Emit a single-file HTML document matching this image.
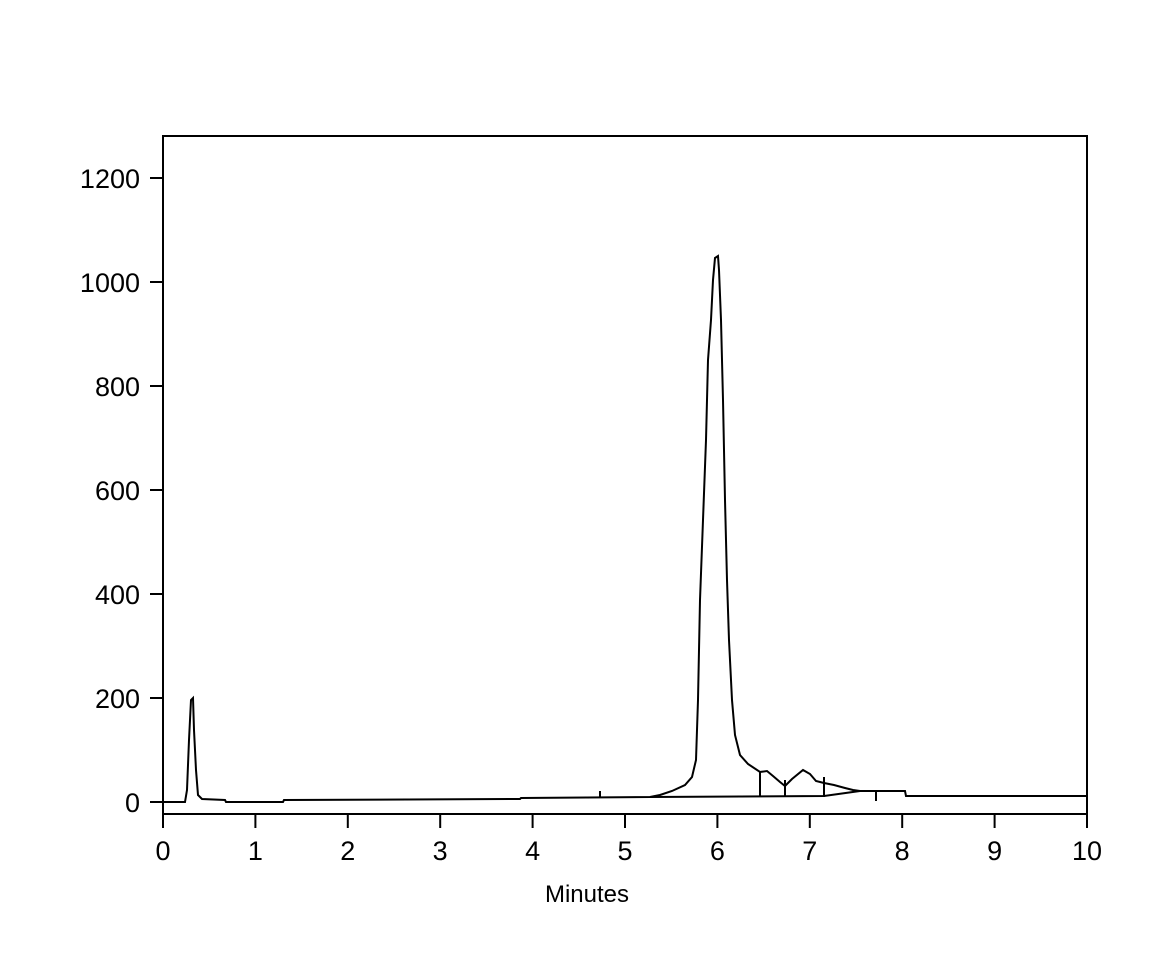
<!DOCTYPE html><html><head><style>body{margin:0;background:#fff}svg{display:block}text{font-family:"Liberation Sans",sans-serif;fill:#000}</style></head><body>
<svg width="1176" height="980" viewBox="0 0 1176 980">
<rect x="163" y="136" width="924" height="678" fill="none" stroke="#000" stroke-width="2"/>
<g stroke="#000" stroke-width="2">
<line x1="150" y1="178" x2="163" y2="178"/><line x1="150" y1="282" x2="163" y2="282"/><line x1="150" y1="386" x2="163" y2="386"/><line x1="150" y1="490" x2="163" y2="490"/><line x1="150" y1="594" x2="163" y2="594"/><line x1="150" y1="698" x2="163" y2="698"/><line x1="150" y1="802" x2="163" y2="802"/>
<line x1="163" y1="814" x2="163" y2="828"/><line x1="255.4" y1="814" x2="255.4" y2="828"/><line x1="347.8" y1="814" x2="347.8" y2="828"/><line x1="440.2" y1="814" x2="440.2" y2="828"/><line x1="532.6" y1="814" x2="532.6" y2="828"/><line x1="625" y1="814" x2="625" y2="828"/><line x1="717.4" y1="814" x2="717.4" y2="828"/><line x1="809.8" y1="814" x2="809.8" y2="828"/><line x1="902.2" y1="814" x2="902.2" y2="828"/><line x1="994.6" y1="814" x2="994.6" y2="828"/><line x1="1087" y1="814" x2="1087" y2="828"/>
</g>
<g font-size="27" text-anchor="end">
<text x="140" y="188">1200</text><text x="140" y="292">1000</text><text x="140" y="396">800</text><text x="140" y="500">600</text><text x="140" y="604">400</text><text x="140" y="708">200</text><text x="140" y="812">0</text></g>
<g font-size="27" text-anchor="middle">
<text x="163" y="860">0</text><text x="255.4" y="860">1</text><text x="347.8" y="860">2</text><text x="440.2" y="860">3</text><text x="532.6" y="860">4</text><text x="625" y="860">5</text><text x="717.4" y="860">6</text><text x="809.8" y="860">7</text><text x="902.2" y="860">8</text><text x="994.6" y="860">9</text><text x="1087" y="860">10</text></g>
<text x="587" y="902" font-size="24" text-anchor="middle">Minutes</text>
<g fill="none" stroke="#000" stroke-width="2">
<path d="M163,802 L185,802 L187,790 L189,740 L191,700 L193,698 L194,730 L196,770 L198,795 L202,799 L225,800 L226,802 L283,802 L284,800 L520,799 L521,798 L650,797 L660,795 L672,791 L685,785 L692,777 L696,760 L698,700 L700,600 L703,520 L706,440 L708,360 L711,320 L713,280 L715,258 L718,256 L719,270 L721,320 L723,400 L725,500 L727,580 L729,640 L732,700 L735,735 L740,755 L748,764 L760,772 L767,771 L773,776 L780,782 L785,786 L792,779 L803,770 L810,774 L816,781 L824,783 L834,785 L845,788 L853,790 L860,791 L905,791 L906,796 L1087,796"/>
<path d="M650,797 L824,796 L860,791"/>
<path d="M600,791 L600,798 M760,772 L760,797 M785,780 L785,797 M824,777 L824,797 M876,791 L876,801"/>
</g>
</svg></body></html>
